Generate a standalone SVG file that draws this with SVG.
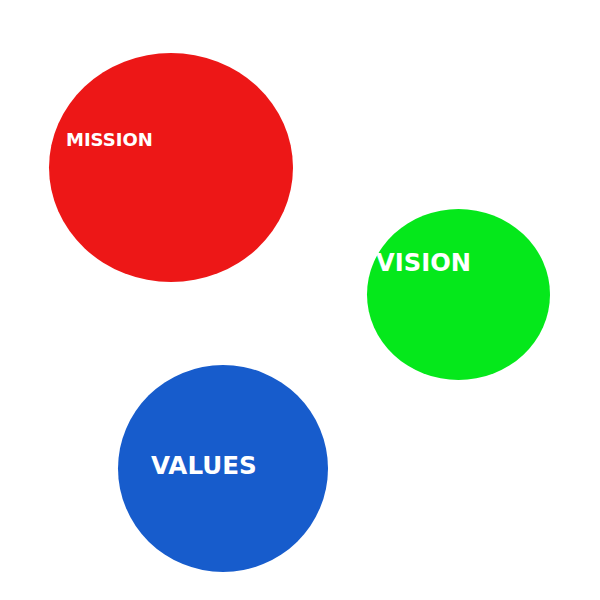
<svg xmlns="http://www.w3.org/2000/svg" width="600" height="600" viewBox="0 0 600 600">
  <style>
    .label { font-family: "DejaVu Sans", "Liberation Sans", sans-serif; font-weight: bold; fill: #ffffff; }
  </style>
  <rect width="600" height="600" fill="#ffffff"/>
  <g id="mission">
    <ellipse cx="171" cy="167.5" rx="122" ry="114.5" fill="#ED1717"/>
    <text class="label" x="66" y="146" font-size="18">MISSION</text>
  </g>
  <g id="vision">
    <ellipse cx="458.5" cy="294.5" rx="91.5" ry="85.5" fill="#05E81B"/>
    <text class="label" x="376" y="271" font-size="24.2">VISION</text>
  </g>
  <g id="values">
    <ellipse cx="223" cy="468.5" rx="105" ry="103.5" fill="#175CCC"/>
    <text class="label" x="151" y="474" font-size="24.6">VALUES</text>
  </g>
  <g id="connectors"/>
</svg>
